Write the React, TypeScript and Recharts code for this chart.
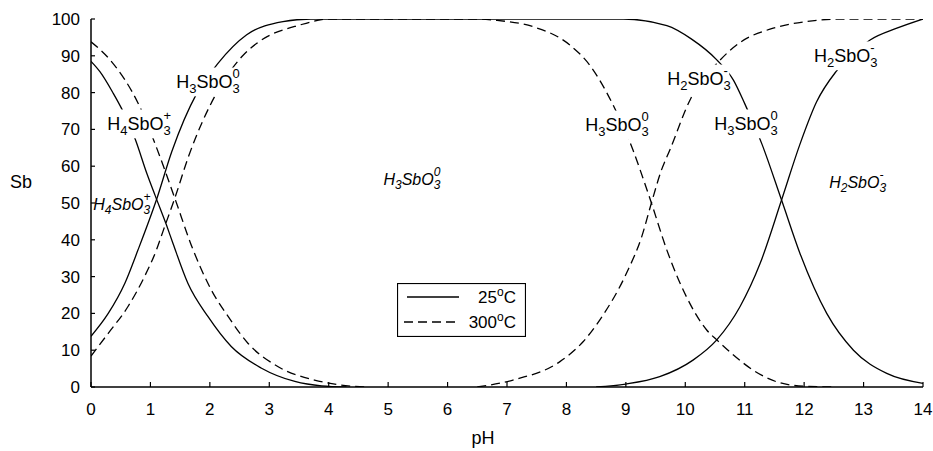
import React from 'react';
import { ComposedChart, Line, Scatter, XAxis, YAxis, Legend, Label } from 'recharts';

const FONT = '"Liberation Sans", Arial, Helvetica, sans-serif';

const phTicks = [0, 1, 2, 3, 4, 5, 6, 7, 8, 9, 10, 11, 12, 13, 14];
const sbTicks = [0, 10, 20, 30, 40, 50, 60, 70, 80, 90, 100];

// 25 °C (solid)
const h4sbo3_25: [number, number][] = [
  [0, 88.5], [0.15, 85.7], [0.375, 79.8], [0.52, 75.5], [0.74, 67.5], [0.94, 58], [1.08, 52],
  [1.27, 44], [1.38, 39], [1.63, 28.2], [1.97, 19.1], [2.36, 11], [2.87, 5.1], [3.43, 1.5],
  [3.88, 0.3], [4.3, 0],
];
const h3sbo3_25: [number, number][] = [
  [0, 13.8], [0.29, 20], [0.57, 28.2], [0.79, 37.2], [1.1, 50.8], [1.36, 64], [1.78, 79.8],
  [2.14, 88], [2.62, 95.7], [3.23, 99.3], [3.7, 100], [8.96, 100], [9.69, 98.2], [10.1, 94.6],
  [10.53, 88.9], [10.81, 83.4], [11.0, 77], [11.29, 66], [11.62, 50.8], [11.93, 36.3],
  [12.38, 20], [12.83, 10], [13.39, 3.7], [14, 1],
];
const h2sbo3_25: [number, number][] = [
  [8.5, 0], [9.0, 0.8], [9.57, 2.8], [10.13, 7.3], [10.53, 12.8], [10.92, 21.8], [11.26, 33.6],
  [11.62, 50.8], [11.93, 66], [12.21, 77.5], [12.55, 86], [13.11, 94.3], [13.56, 97.5],
  [14, 100],
];

// 300 °C (dashed)
const h4sbo3_300: [number, number][] = [
  [0, 93.8], [0.32, 88.9], [0.82, 76.2], [1.16, 62.6], [1.41, 51.3], [1.72, 37.2], [2.02, 26.5],
  [2.31, 19.1], [2.64, 11.9], [3.15, 5.5], [3.76, 1.9], [4.21, 0.5], [4.6, 0],
];
const h3sbo3_300: [number, number][] = [
  [0, 8.4], [0.29, 14.6], [0.62, 21.8], [0.9, 30], [1.1, 37.2], [1.22, 42.7], [1.41, 51.3],
  [1.64, 62.6], [2.11, 79.8], [2.54, 89.8], [2.79, 93.4], [3.52, 98.4], [4.02, 100], [6.5, 100],
  [6.77, 99.7], [7.44, 97.9], [8.06, 92.9], [8.4, 87.3], [8.78, 76.8], [9.12, 64.4], [9.24, 59],
  [9.43, 50], [9.69, 37.2], [10.02, 24.5], [10.36, 15.5], [10.53, 12.8], [10.81, 8.7],
  [11.14, 4.6], [11.54, 1.4], [12.0, 0.2], [12.5, 0],
];
const h2sbo3_300: [number, number][] = [
  [6.5, 0], [7.1, 1.9], [7.89, 6.9], [8.28, 12.3], [8.56, 18.2], [9.01, 30.9], [9.27, 41],
  [9.43, 50], [9.6, 59], [9.74, 64.4], [10.08, 78], [10.56, 88.4], [10.92, 93.6], [11.48, 97.5],
  [12.04, 99.3], [12.6, 100], [14, 100],
];

// species annotations (pH, Sb, hydrogen count, charge, italic)
const speciesLabels = [
  { ph: 1.97, v: 82.9, h: '3', q: '0', italic: false },
  { ph: 0.81, v: 71.5, h: '4', q: '+', italic: false },
  { ph: 0.52, v: 49.5, h: '4', q: '+', italic: true },
  { ph: 5.4, v: 56.5, h: '3', q: '0', italic: true },
  { ph: 8.85, v: 71.2, h: '3', q: '0', italic: false },
  { ph: 10.23, v: 83.7, h: '2', q: '-', italic: false },
  { ph: 11.02, v: 71.5, h: '3', q: '0', italic: false },
  { ph: 12.7, v: 90, h: '2', q: '-', italic: false },
  { ph: 12.9, v: 55.7, h: '2', q: '-', italic: true },
];

const toPts = (arr: [number, number][]) => arr.map(([ph, v]) => ({ ph, v }));

const ChemLabel = (props: any) => {
  const { cx, cy, payload } = props;
  if (cx == null || cy == null || !payload) return null;
  const it = payload.italic;
  const fs = it ? 16 : 18;
  const ss = it ? 12 : 13;
  const sd = it ? 4 : 5;
  const su = it ? 9 : 10;
  const w = fs * 2.723 + ss * 0.6 + 4;
  const h = fs * 1.6;
  return (
    <g>
      {!it && <rect x={cx - w / 2} y={cy - h / 2} width={w} height={h} fill="#fff" />}
      <text
        x={cx}
        y={cy + fs * 0.35}
        textAnchor="middle"
        fontSize={fs}
        fontStyle={it ? 'italic' : 'normal'}
        fontFamily={FONT}
        fill="#000"
      >
        H
        <tspan fontSize={ss} dy={sd}>{payload.h}</tspan>
        <tspan dy={-sd}>SbO</tspan>
        <tspan fontSize={ss} dy={sd}>3</tspan>
        <tspan fontSize={ss} dx={-ss * 0.556} dy={-sd - su}>{payload.q}</tspan>
      </text>
    </g>
  );
};

const XTick = (props: any) => {
  const { x, y, payload } = props;
  return (
    <g>
      <line x1={x} x2={x} y1={y - 15} y2={y - 20} stroke="#000" strokeWidth={1.2} />
      <text x={x} y={y} dy={12.5} textAnchor="middle" fontSize={17} fontFamily={FONT} fill="#000">
        {payload.value}
      </text>
    </g>
  );
};

const YTick = (props: any) => {
  const { x, y, payload } = props;
  return (
    <g>
      <line x1={x + 11} x2={x + 15} y1={y} y2={y} stroke="#000" strokeWidth={1.2} />
      <text x={x} y={y} dy={6} textAnchor="end" fontSize={17} fontFamily={FONT} fill="#000">
        {payload.value}
      </text>
    </g>
  );
};

const RTick = (props: any) => {
  const { x, y } = props;
  return <line x1={x} x2={x - 4} y1={y} y2={y} stroke="#000" strokeWidth={1.2} />;
};

const LegendBox = () => (
  <svg width={129} height={54} style={{ display: 'block' }}>
    <rect x={0.5} y={0.5} width={128} height={53} fill="#fff" stroke="#000" strokeWidth={1.2} />
    <line x1={10} x2={62} y1={14} y2={14} stroke="#000" strokeWidth={1.3} />
    <line x1={7} x2={60} y1={39} y2={39} stroke="#000" strokeWidth={1.3} strokeDasharray="9 5" />
    <text x={119} y={20} textAnchor="end" fontSize={17} fontFamily={FONT} fill="#000">
      25<tspan fontSize={12} dy={-7}>o</tspan><tspan dy={7}>C</tspan>
    </text>
    <text x={119} y={45} textAnchor="end" fontSize={17} fontFamily={FONT} fill="#000">
      300<tspan fontSize={12} dy={-7}>o</tspan><tspan dy={7}>C</tspan>
    </text>
  </svg>
);

const solid = { stroke: '#000', strokeWidth: 1.3 };
const dashed = { stroke: '#000', strokeWidth: 1.3, strokeDasharray: '9 5' };

export default function App() {
  return (
    <div style={{ position: 'absolute', left: 0, top: 0, width: 933, height: 451, background: '#fff' }}>
      <ComposedChart
        width={933}
        height={451}
        margin={{ top: 19, right: 10, bottom: 0, left: 0 }}
        style={{ fontFamily: FONT }}
      >
        <XAxis
          dataKey="ph"
          type="number"
          domain={[0, 14]}
          ticks={phTicks}
          interval={0}
          allowDataOverflow
          height={64}
          tickSize={0}
          tickMargin={15}
          tickLine={false}
          tick={XTick}
          axisLine={{ stroke: '#000', strokeWidth: 1.5 }}
        >
          <Label value="pH" position="insideBottom" offset={7} dx={-24} fontSize={18} fill="#000" fontFamily={FONT} />
        </XAxis>
        <XAxis
          xAxisId="top"
          orientation="top"
          type="number"
          domain={[0, 14]}
          height={0}
          tick={false}
          tickLine={false}
          axisLine={{ stroke: '#000', strokeWidth: 1.5 }}
        />
        <YAxis
          dataKey="v"
          type="number"
          domain={[0, 100]}
          ticks={sbTicks}
          interval={0}
          allowDataOverflow
          width={91}
          tickSize={0}
          tickMargin={11}
          tickLine={false}
          tick={YTick}
          axisLine={{ stroke: '#000', strokeWidth: 1.5 }}
        >
          <Label value="Sb" position="insideLeft" offset={10} dy={-21} fontSize={18} fill="#000" fontFamily={FONT} />
        </YAxis>
        <YAxis
          yAxisId="right"
          orientation="right"
          type="number"
          domain={[0, 100]}
          ticks={sbTicks}
          interval={0}
          width={0}
          tickSize={0}
          tickMargin={0}
          tickLine={false}
          tick={RTick}
          axisLine={{ stroke: '#000', strokeWidth: 1.5 }}
        />
        <Line data={toPts(h4sbo3_25)} dataKey="v" type="monotone" dot={false} activeDot={false} isAnimationActive={false} {...solid} />
        <Line data={toPts(h3sbo3_25)} dataKey="v" type="monotone" dot={false} activeDot={false} isAnimationActive={false} {...solid} />
        <Line data={toPts(h2sbo3_25)} dataKey="v" type="monotone" dot={false} activeDot={false} isAnimationActive={false} {...solid} />
        <Line data={toPts(h4sbo3_300)} dataKey="v" type="monotone" dot={false} activeDot={false} isAnimationActive={false} {...dashed} />
        <Line data={toPts(h3sbo3_300)} dataKey="v" type="monotone" dot={false} activeDot={false} isAnimationActive={false} {...dashed} />
        <Line data={toPts(h2sbo3_300)} dataKey="v" type="monotone" dot={false} activeDot={false} isAnimationActive={false} {...dashed} />
        <Scatter data={speciesLabels} dataKey="v" shape={ChemLabel} isAnimationActive={false} legendType="none" />
        <Legend
          layout="vertical"
          verticalAlign="middle"
          align="center"
          wrapperStyle={{ left: 397, top: 283, width: 129, height: 54 }}
          content={() => <LegendBox />}
        />
      </ComposedChart>
    </div>
  );
}
